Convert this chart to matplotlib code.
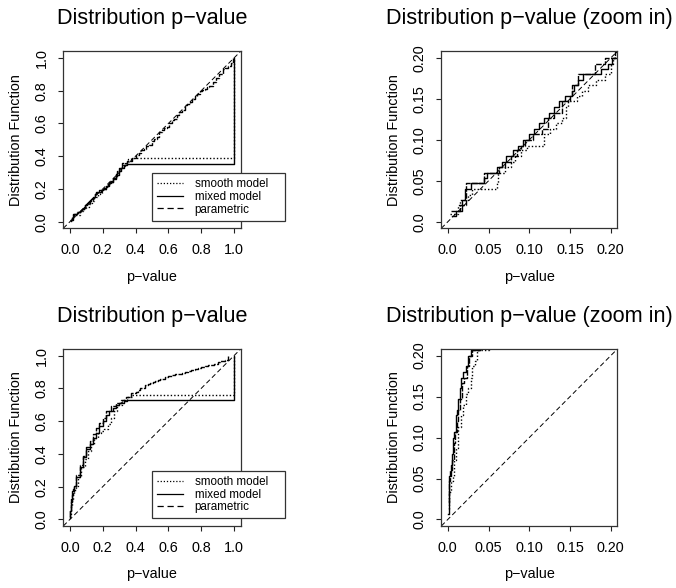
import matplotlib.pyplot as plt
from matplotlib.lines import Line2D

plt.rcParams["font.family"] = ["Liberation Sans", "DejaVu Sans"]

# --- top row: p-values close to uniform ---
top_smooth_x = [0.003, 0.012, 0.015, 0.025, 0.030, 0.043, 0.060, 0.062, 0.070, 0.078,
                0.083, 0.090, 0.097, 0.110, 0.118, 0.125, 0.133, 0.140, 0.145, 0.148,
                0.158, 0.165, 0.172, 0.182, 0.193, 0.200, 0.203, 0.225, 0.245, 0.265,
                0.285, 0.300, 0.315, 0.335, 0.355, 0.370, 1.000]
top_smooth_y = [0.010, 0.020, 0.027, 0.033, 0.040, 0.040, 0.047, 0.060, 0.067, 0.073,
                0.080, 0.087, 0.093, 0.093, 0.107, 0.113, 0.120, 0.127, 0.140, 0.147,
                0.153, 0.160, 0.167, 0.173, 0.180, 0.193, 0.200, 0.225, 0.245, 0.270,
                0.295, 0.320, 0.345, 0.365, 0.380, 0.390, 1.000]

top_mixed_x = [0.005, 0.010, 0.018, 0.021, 0.028, 0.036, 0.045, 0.048, 0.060, 0.066,
               0.072, 0.080, 0.086, 0.092, 0.100, 0.106, 0.112, 0.118, 0.124, 0.130,
               0.137, 0.144, 0.152, 0.155, 0.160, 0.166, 0.174, 0.188, 0.196, 0.202,
               0.220, 0.240, 0.262, 0.280, 0.298, 0.310, 0.328, 0.345, 1.000]
top_mixed_y = [0.007, 0.013, 0.027, 0.040, 0.047, 0.047, 0.053, 0.060, 0.067, 0.073,
               0.080, 0.087, 0.093, 0.100, 0.107, 0.113, 0.120, 0.127, 0.133, 0.140,
               0.147, 0.153, 0.160, 0.167, 0.173, 0.180, 0.180, 0.187, 0.193, 0.200,
               0.220, 0.240, 0.262, 0.285, 0.310, 0.330, 0.345, 0.353, 1.000]

top_param_x = [0.004, 0.015, 0.022, 0.035, 0.045, 0.063, 0.070, 0.077, 0.085, 0.090,
               0.095, 0.105, 0.115, 0.123, 0.130, 0.140, 0.150, 0.152, 0.160, 0.180,
               0.193, 0.205, 0.220, 0.235, 0.250, 0.265, 0.280, 0.290, 0.300, 0.320,
               0.350, 0.380, 0.400, 0.420, 0.435, 0.450, 0.465, 0.480, 0.500, 0.515,
               0.530, 0.545, 0.560, 0.575, 0.590, 0.605, 0.620, 0.635, 0.650, 0.665,
               0.680, 0.700, 0.715, 0.730, 0.745, 0.760, 0.775, 0.790, 0.805, 0.820,
               0.835, 0.850, 0.870, 0.890, 0.910, 0.930, 0.945, 0.960, 0.980, 0.995]
top_param_y = [0.013, 0.020, 0.047, 0.047, 0.060, 0.067, 0.073, 0.080, 0.087, 0.093,
               0.100, 0.107, 0.113, 0.127, 0.133, 0.147, 0.153, 0.167, 0.180, 0.193,
               0.200, 0.207, 0.220, 0.230, 0.250, 0.270, 0.290, 0.310, 0.330, 0.360,
               0.370, 0.390, 0.405, 0.420, 0.440, 0.445, 0.460, 0.470, 0.490, 0.505,
               0.520, 0.545, 0.560, 0.570, 0.580, 0.605, 0.620, 0.630, 0.650, 0.670,
               0.680, 0.710, 0.720, 0.730, 0.750, 0.770, 0.780, 0.800, 0.805, 0.810,
               0.820, 0.830, 0.850, 0.880, 0.900, 0.930, 0.940, 0.950, 0.970, 1.000]

# --- bottom row: p-values concentrated near zero ---
bot_smooth_x = [0.001, 0.002, 0.004, 0.006, 0.008, 0.010, 0.012, 0.013, 0.016, 0.019,
                0.022, 0.025, 0.028, 0.030, 0.033, 0.036, 0.050, 0.070, 0.090, 0.110,
                0.130, 0.150, 0.170, 0.190, 0.210, 0.230, 0.250, 0.270, 0.290, 0.320,
                0.350, 0.380, 1.000]
bot_smooth_y = [0.013, 0.033, 0.047, 0.053, 0.073, 0.087, 0.100, 0.113, 0.127, 0.140,
                0.153, 0.160, 0.173, 0.187, 0.193, 0.207, 0.260, 0.320, 0.370, 0.420,
                0.460, 0.500, 0.530, 0.540, 0.550, 0.580, 0.620, 0.660, 0.700, 0.730,
                0.750, 0.760, 1.000]

bot_mixed_x = [0.0005, 0.001, 0.002, 0.004, 0.005, 0.006, 0.008, 0.010, 0.011, 0.013,
               0.015, 0.016, 0.019, 0.022, 0.025, 0.028, 0.040, 0.060, 0.080, 0.100,
               0.120, 0.140, 0.160, 0.180, 0.200, 0.220, 0.240, 0.260, 0.280, 0.300,
               0.330, 0.350, 1.000]
bot_mixed_y = [0.007, 0.047, 0.053, 0.067, 0.080, 0.100, 0.107, 0.127, 0.133, 0.147,
               0.160, 0.173, 0.180, 0.187, 0.200, 0.207, 0.260, 0.320, 0.380, 0.430,
               0.460, 0.500, 0.530, 0.570, 0.600, 0.640, 0.660, 0.680, 0.700, 0.710,
               0.720, 0.730, 1.000]

bot_param_x = [0.001, 0.002, 0.003, 0.005, 0.007, 0.009, 0.011, 0.013, 0.015, 0.018,
               0.020, 0.023, 0.026, 0.030, 0.040, 0.060, 0.080, 0.100, 0.120, 0.140,
               0.160, 0.180, 0.200, 0.220, 0.250, 0.280, 0.310, 0.340, 0.370, 0.400,
               0.415, 0.430, 0.445, 0.460, 0.475, 0.490, 0.505, 0.520, 0.535, 0.550,
               0.565, 0.580, 0.600, 0.620, 0.640, 0.660, 0.680, 0.700, 0.720, 0.740,
               0.760, 0.780, 0.800, 0.820, 0.840, 0.860, 0.880, 0.900, 0.915, 0.930,
               0.945, 0.960]
bot_param_y = [0.020, 0.047, 0.060, 0.073, 0.093, 0.107, 0.120, 0.133, 0.147, 0.167,
               0.173, 0.187, 0.200, 0.207, 0.270, 0.330, 0.390, 0.440, 0.480, 0.520,
               0.560, 0.590, 0.620, 0.660, 0.690, 0.710, 0.730, 0.750, 0.770, 0.780,
               0.790, 0.800, 0.805, 0.820, 0.825, 0.830, 0.840, 0.845, 0.850, 0.855,
               0.860, 0.870, 0.875, 0.880, 0.885, 0.890, 0.895, 0.900, 0.905, 0.910,
               0.920, 0.925, 0.930, 0.935, 0.940, 0.945, 0.950, 0.960, 0.965, 0.970,
               0.975, 1.000]

rows = [
    ((top_smooth_x, top_smooth_y), (top_mixed_x, top_mixed_y), (top_param_x, top_param_y)),
    ((bot_smooth_x, bot_smooth_y), (bot_mixed_x, bot_mixed_y), (bot_param_x, bot_param_y)),
]
labels = ["smooth model", "mixed model", "parametric"]
# the dense parametric steps read almost solid in the original
curve_styles = [(0, (1, 1.5)), "-", (0, (4, 1))]
legend_styles = [(0, (1, 1.5)), "-", (0, (5, 3))]

full_ticks = [0.0, 0.2, 0.4, 0.6, 0.8, 1.0]
full_labels = ["0.0", "0.2", "0.4", "0.6", "0.8", "1.0"]
zoom_ticks = [0.0, 0.05, 0.10, 0.15, 0.20]
zoom_labels = ["0.0", "0.05", "0.10", "0.15", "0.20"]

fig = plt.figure(figsize=(6.76, 5.88), dpi=100)
lefts = [0.0936, 0.6528]
bottoms = [0.6117, 0.1054]
w, h = 0.2624, 0.301


def style_axes(ax, ticks, ticklabels, lim):
    ax.set_xlim(*lim)
    ax.set_ylim(*lim)
    ax.set_xticks(ticks, ticklabels)
    ax.set_yticks(ticks, ticklabels)
    ax.tick_params(direction="out", length=3.6, width=0.8, pad=7, labelsize=10.4,
                   color="#222222")
    ax.tick_params(axis="y", labelrotation=90)
    for lab in ax.get_yticklabels():
        lab.set_va("center")
    for s in ax.spines.values():
        s.set_color("#333333")
        s.set_linewidth(0.9)
    ax.set_xlabel("p\u2212value", fontsize=10.4, labelpad=9)
    ax.set_ylabel("Distribution Function", fontsize=10.4, labelpad=8)


for r, curves in enumerate(rows):
    ax_full = fig.add_axes([lefts[0], bottoms[r], w, h])
    ax_zoom = fig.add_axes([lefts[1], bottoms[r], w - 0.002, h])

    for ax in (ax_full, ax_zoom):
        for (xs, ys), ls in zip(curves, curve_styles):
            ax.step(xs, ys, where="post", color="black", linestyle=ls, linewidth=1.0)
        ax.axline((0, 0), slope=1, color="black", linestyle=(0, (5, 3)), linewidth=0.7)

    style_axes(ax_full, full_ticks, full_labels, (-0.04, 1.04))
    style_axes(ax_zoom, zoom_ticks, zoom_labels, (-0.008, 0.208))
    ax_full.set_title("Distribution p\u2212value", fontsize=15.6, pad=19.5)
    ax_zoom.set_title("Distribution p\u2212value (zoom in)", fontsize=15.6, pad=19.5)

    handles = [Line2D([], [], color="black", linestyle=ls, linewidth=0.9)
               for ls in legend_styles]
    leg = ax_full.legend(handles, labels, loc="upper left", mode="expand",
                         bbox_to_anchor=(0.5, 0.0, 0.75, 0.312),
                         borderaxespad=0, fontsize=8.4, frameon=True, fancybox=False,
                         framealpha=1, edgecolor="#333333", handlelength=2.2,
                         handletextpad=1.0, labelspacing=0.05, borderpad=0.45)
    leg.get_frame().set_linewidth(0.9)

fig.savefig("out.png", dpi=100)
